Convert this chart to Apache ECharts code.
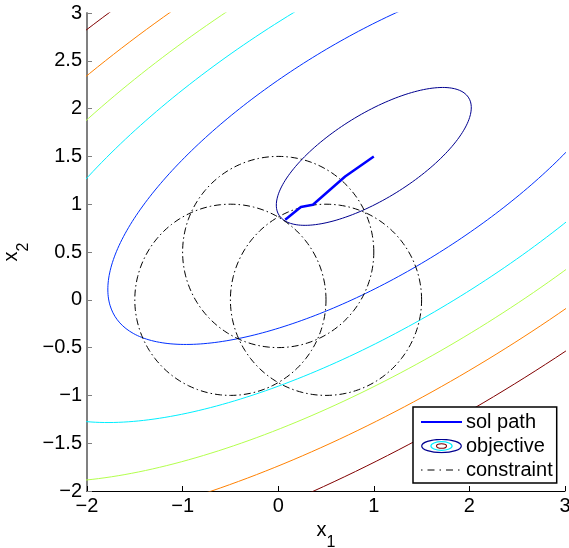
<!DOCTYPE html>
<html><head><meta charset="utf-8">
<script src="https://cdn.jsdelivr.net/npm/echarts@6/dist/echarts.min.js"></script>
<style>html,body{margin:0;padding:0;background:#fff}#c{width:569px;height:548px}</style>
</head><body><div id="c"></div>
<script>
// ---- data ----
const xTicks = [-2, -1, 0, 1, 2, 3];
const yTicks = [-2, -1.5, -1, -0.5, 0, 0.5, 1, 1.5, 2, 2.5, 3];
const objCenter = [1, 1.5];                 // unconstrained minimiser
const objQuad = [1, -1, 2];                 // a, b, c of a*u^2 + 2*b*u*v + c*v^2
const objLevels = [0.52, 3.87, 7.75, 11.6, 15.5, 20.5];
const circleCenters = [[0, 0.5], [-0.5, 0], [0.5, 0]];
const circleRadii = [1, 1, 1];
const solX = [1, 0.70, 0.363, 0.237, 0.073];
const solY = [1.5, 1.29, 0.994, 0.97, 0.837];

// ---- styles ----
const levelColors = ['#00008f', '#0030ff', '#00efff', '#b3ff4d', '#ff8000', '#800000'];
const FONT = 'Liberation Sans, Arial, Helvetica, sans-serif';
const N = 360;

function ellipsePoints(level) {
  const [a, b, c] = objQuad;
  const tr = a + c, det = a * c - b * b;
  const disc = Math.sqrt(tr * tr / 4 - det);
  const l1 = tr / 2 + disc, l2 = tr / 2 - disc;
  let e1 = Math.abs(b) > 1e-12 ? [b, l1 - a] : [1, 0];
  const n1 = Math.hypot(e1[0], e1[1]); e1 = [e1[0] / n1, e1[1] / n1];
  const e2 = [-e1[1], e1[0]];
  const r1 = Math.sqrt(level / l1), r2 = Math.sqrt(level / l2);
  const pts = [];
  for (let i = 0; i <= N; i++) {
    const t = 2 * Math.PI * i / N;
    const p = r1 * Math.cos(t), q = r2 * Math.sin(t);
    pts.push([objCenter[0] + p * e1[0] + q * e2[0], objCenter[1] + p * e1[1] + q * e2[1]]);
  }
  return pts;
}
function circlePoints(ctr, r) {
  const pts = [];
  for (let i = 0; i <= N; i++) {
    const t = 2 * Math.PI * i / N;
    pts.push([ctr[0] + r * Math.cos(t), ctr[1] + r * Math.sin(t)]);
  }
  return pts;
}

const series = [];
objLevels.forEach((lv, i) => {
  series.push({
    name: 'objective', type: 'line', data: ellipsePoints(lv), symbol: 'none',
    lineStyle: { color: levelColors[i], width: 1 }, itemStyle: { color: levelColors[i] },
    clip: true, silent: true, animation: false, z: 2
  });
});
circleCenters.forEach((c, i) => {
  series.push({
    name: 'constraint', type: 'line', data: circlePoints(c, circleRadii[i]), symbol: 'none',
    lineStyle: { color: '#000', width: 1, type: [7, 3, 1.5, 3] }, itemStyle: { color: '#000' },
    clip: true, silent: true, animation: false, z: 3
  });
});
series.push({
  name: 'sol path', type: 'line', data: solX.map((x, i) => [x, solY[i]]), symbol: 'none',
  lineStyle: { color: '#0000ff', width: 2.5 }, itemStyle: { color: '#0000ff' },
  clip: true, silent: true, animation: false, z: 4
});

function svgIcon(inner) {
  return 'image://data:image/svg+xml;charset=utf-8,' + encodeURIComponent(
    '<svg xmlns="http://www.w3.org/2000/svg" width="41" height="15" viewBox="0 0 41 15">' + inner + '</svg>');
}
const iconSol = svgIcon('<line x1="0" y1="7.5" x2="41" y2="7.5" stroke="#0000ff" stroke-width="2.2"/>');
const iconObj = svgIcon(
  '<ellipse cx="20.5" cy="7.5" rx="19.8" ry="6.6" fill="none" stroke="#00008f" stroke-width="1.2"/>' +
  '<ellipse cx="20.5" cy="7.5" rx="10.6" ry="4.3" fill="none" stroke="#00efff" stroke-width="1.2"/>' +
  '<ellipse cx="20.5" cy="7.5" rx="5" ry="2.3" fill="none" stroke="#800000" stroke-width="1.1"/>');
const iconCon = svgIcon('<line x1="0" y1="7.5" x2="41" y2="7.5" stroke="#000" stroke-width="1" stroke-dasharray="1.5 5 7 5"/>');

const fmt = v => (v < 0 ? '\u2212' : '') + Math.abs(v);

const option = {
  backgroundColor: '#fff',
  animation: false,
  grid: { left: 87, right: 4, top: 13, bottom: 57, containLabel: false, outerBoundsMode: 'none' },
  xAxis: {
    type: 'value', min: xTicks[0], max: xTicks[xTicks.length - 1], interval: 1,
    axisLine: { show: true, onZero: false, lineStyle: { color: '#000', width: 1 } },
    axisTick: { show: true, inside: true, length: 5, lineStyle: { color: '#000' } },
    axisLabel: { margin: 5, fontSize: 20, color: '#000', fontFamily: FONT, formatter: fmt },
    splitLine: { show: false },
    name: '{x|x}{s|1}', nameLocation: 'middle', nameGap: 17,
    nameTextStyle: { fontFamily: FONT, color: '#000',
      rich: { x: { fontSize: 20, lineHeight: 20, verticalAlign: 'top', fontFamily: FONT },
              s: { fontSize: 16, lineHeight: 44, verticalAlign: 'middle', fontFamily: FONT } } }
  },
  yAxis: {
    type: 'value', min: yTicks[0], max: yTicks[yTicks.length - 1], interval: 0.5,
    axisLine: { show: true, onZero: false, lineStyle: { color: '#808080', width: 2 } },
    axisTick: { show: true, inside: true, length: 5, lineStyle: { color: '#808080', width: 1 } },
    axisLabel: { margin: 5, fontSize: 20, color: '#000', fontFamily: FONT, formatter: fmt },
    splitLine: { show: false },
    name: '{x|x}{s|2}', nameLocation: 'middle', nameGap: 37,
    nameTextStyle: { fontFamily: FONT, color: '#000',
      rich: { x: { fontSize: 20, lineHeight: 20, verticalAlign: 'top', fontFamily: FONT },
              s: { fontSize: 16, lineHeight: 44, verticalAlign: 'middle', fontFamily: FONT } } }
  },
  legend: {
    orient: 'vertical', left: 413, top: 407,
    padding: [5, 4, 3, 8], itemGap: 4, itemWidth: 41, itemHeight: 15,
    symbolKeepAspect: false,
    backgroundColor: '#fff', borderColor: '#000', borderWidth: 1.5, borderRadius: 0,
    selectedMode: false,
    textStyle: { fontSize: 20, lineHeight: 20, color: '#000', fontFamily: FONT, padding: [0, 0, 0, -1] },
    data: [
      { name: 'sol path', icon: iconSol },
      { name: 'objective', icon: iconObj },
      { name: 'constraint', icon: iconCon }
    ]
  },
  series: series
};
const chart = echarts.init(document.getElementById('c'), null, { renderer: 'canvas' });
chart.setOption(option);
</script></body></html>
